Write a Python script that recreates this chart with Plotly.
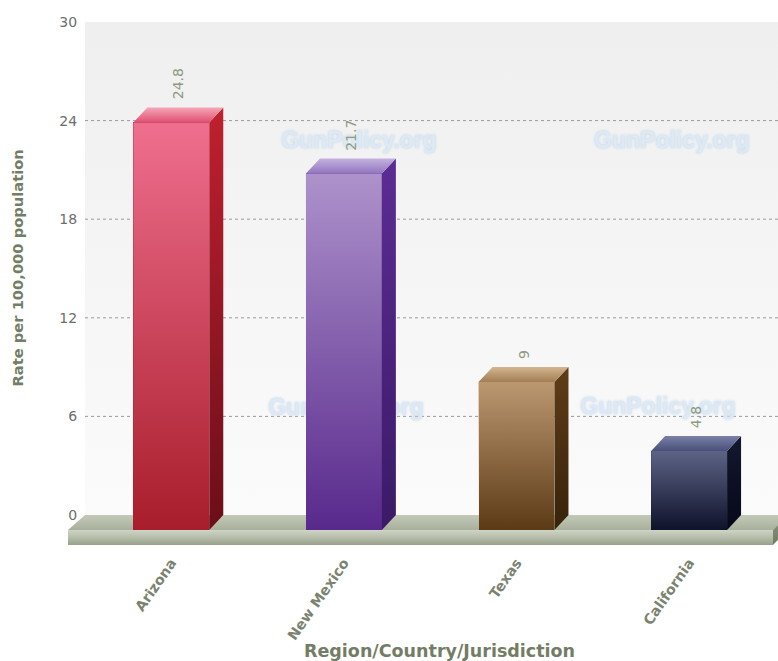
import plotly.graph_objects as go

# ---- data -------------------------------------------------------------
regions = ["Arizona", "New Mexico", "Texas", "California"]
rates = [24.8, 21.7, 9, 4.8]
y_ticks = [0, 6, 12, 18, 24, 30]
grid_values = [6, 12, 18, 24]
watermark_text = "GunPolicy.org"

# bar colours: front face (top/bottom), side face (top/bottom), lid (front/back)
front_top = ["#ef6f8e", "#ad92cb", "#bb9870", "#5d6385"]
front_bottom = ["#a81d2b", "#58298c", "#5c3a16", "#0e122a"]
side_top = ["#c0202f", "#5c2c94", "#5f3d18", "#14182f"]
side_bottom = ["#6a0e19", "#3b1a66", "#37220b", "#06081a"]
lid_front = ["#df4f70", "#9276c0", "#a27c52", "#484f78"]
lid_back = ["#f5a7b8", "#c5b2e0", "#d2b690", "#7a80a8"]

# ---- geometry (pixels of the 778 x 661 canvas) ------------------------
PX_L, PX_R, PX_T, PX_B = 68, 778, 22, 545
WALL_PX = 85          # left edge of the back wall
ZERO_PX = 515         # value 0 on the back wall
DEPTH_PX_X, DEPTH_PX_Y = 14, 15
Y_MAX = 30
SY = (ZERO_PX - PX_T) / Y_MAX
SX = 172.6
CENTER0 = 171.3

Y0 = -(PX_B - ZERO_PX) / SY
D = DEPTH_PX_Y / SY
DX = DEPTH_PX_X / SX
X0 = (PX_L - CENTER0) / SX
X1 = (PX_R - CENTER0) / SX
WALL_X = (WALL_PX - CENTER0) / SX
FLOOR_RIGHT = (773 - CENTER0) / SX
HALF_W = 0.22

xs = list(range(len(regions)))


def rgba(hex_color, a):
    h = hex_color.lstrip("#")
    r, g, b = int(h[0:2], 16), int(h[2:4], 16), int(h[4:6], 16)
    return f"rgba({r},{g},{b},{a})"


def poly(px, py, scale, yaxis="y"):
    return go.Scatter(
        x=px + [px[0]], y=py + [py[0]], mode="lines", fill="toself",
        line=dict(width=0), fillgradient=dict(type="vertical", colorscale=scale),
        hoverinfo="skip", showlegend=False, yaxis=yaxis,
    )


fig = go.Figure()

# back wall
fig.add_trace(poly([WALL_X, X1 + 0.2, X1 + 0.2, WALL_X], [0, 0, Y_MAX, Y_MAX],
                   [[0, "#fbfbfb"], [1, "#efefef"]]))

# dotted grid lines on the wall
for g in grid_values:
    fig.add_trace(go.Scatter(x=[WALL_X, X1 + 0.2], y=[g, g], mode="lines",
                             line=dict(color="#9a9a9a", width=1, dash="dot"),
                             hoverinfo="skip", showlegend=False))

# watermarks
fig.add_trace(go.Scatter(
    x=[1.087, 2.90, 1.012, 2.82], y=[22.7, 22.7, 6.45, 6.5], mode="text",
    text=[watermark_text] * 4,
    textfont=dict(family="Liberation Sans", size=23, weight="bold", color="#dde9f4",
                  shadow="0px 0px 3px #bcd2e6"),
    hoverinfo="skip", showlegend=False, cliponaxis=False))

# floor slab: top, front and right end
fig.add_trace(poly([X0, FLOOR_RIGHT, FLOOR_RIGHT + DX, WALL_X], [-D, -D, 0, 0],
                   [[0, "#a8b09b"], [1, "#c3c9b8"]]))
fig.add_trace(poly([X0, FLOOR_RIGHT, FLOOR_RIGHT, X0], [Y0, Y0, -D, -D],
                   [[0, "#98a28c"], [0.55, "#b8bfac"], [1, "#cfd5c7"]]))
fig.add_trace(poly([FLOOR_RIGHT, FLOOR_RIGHT + DX, FLOOR_RIGHT + DX, FLOOR_RIGHT],
                   [-D, 0, Y0 + D, Y0], [[0, "#6f7964"], [1, "#8c967f"]]))

# bars (front faces) on the front axis
fig.add_trace(go.Bar(x=xs, y=rates, width=2 * HALF_W, yaxis="y2",
                     marker=dict(color=front_bottom, line=dict(width=0)),
                     hovertext=regions, hoverinfo="text+y", showlegend=False))

for i, v in enumerate(rates):
    xl, xr = i - HALF_W, i + HALF_W
    # front-face shading
    fig.add_trace(poly([xl, xr, xr, xl], [0, 0, v, v],
                       [[0, rgba(front_top[i], 0)], [1, rgba(front_top[i], 1)]], "y2"))
    # right side face
    fig.add_trace(poly([xr, xr + DX, xr + DX, xr], [0, D, v + D, v],
                       [[0, side_bottom[i]], [1, side_top[i]]], "y2"))
    # lid
    fig.add_trace(poly([xl, xr, xr + DX, xl + DX], [v, v, v + D, v + D],
                       [[0, lid_front[i]], [1, lid_back[i]]], "y2"))

# value labels above each bar
annotations = []
for i, v in enumerate(rates):
    annotations.append(dict(
        x=i + DX / 2, y=v + D, xref="x", yref="y2", text=f"{v:g}",
        textangle=-90, showarrow=False, yanchor="bottom", xanchor="center", yshift=6,
        font=dict(family="DejaVu Sans", size=14, color="#8d9b80")))

annotations.append(dict(
    x=(439 - PX_L) / (PX_R - PX_L), y=(PX_B - 651) / (PX_B - PX_T),
    xref="paper", yref="paper", xanchor="center", yanchor="middle",
    text="Region/Country/Jurisdiction", showarrow=False,
    font=dict(family="DejaVu Sans", size=17.5, weight="bold", color="#737d66")))
annotations.append(dict(
    x=(17 - PX_L) / (PX_R - PX_L), y=Y_MAX / 2, xref="paper", yref="y",
    xanchor="center", yanchor="middle",
    text="Rate per 100,000 population", textangle=-90, showarrow=False,
    font=dict(family="DejaVu Sans", size=14.7, weight="bold", color="#737d66")))

fig.update_layout(
    width=778, height=661,
    margin=dict(l=PX_L, r=778 - PX_R, t=PX_T, b=661 - PX_B),
    paper_bgcolor="white", plot_bgcolor="white",
    showlegend=False, bargap=0,
    xaxis=dict(range=[X0, X1], tickmode="array", tickvals=xs, ticktext=regions,
               tickangle=-55, showgrid=False, zeroline=False, showline=False,
               ticks="outside", ticklen=3, tickcolor="rgba(0,0,0,0)",
               tickfont=dict(family="DejaVu Sans", size=14.2, weight="bold", color="#7b8370"),
               fixedrange=True),
    yaxis=dict(range=[Y0, Y_MAX], tickmode="array", tickvals=y_ticks,
               anchor="free", position=(WALL_PX - PX_L) / (PX_R - PX_L),
               showgrid=False, zeroline=False, showline=False,
               ticks="outside", ticklen=5, tickcolor="rgba(0,0,0,0)",
               tickfont=dict(family="DejaVu Sans", size=14, color="#6d6d6d"),
               fixedrange=True),
    yaxis2=dict(range=[Y0 + D, Y_MAX + D], overlaying="y", visible=False,
                fixedrange=True),
    annotations=annotations,
)

fig.write_html("out.html")
